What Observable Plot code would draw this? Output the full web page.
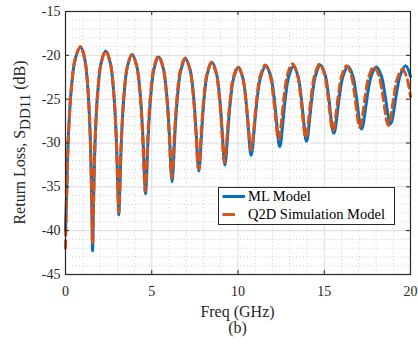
<!DOCTYPE html>
<html><head><meta charset="utf-8">
<script src="https://cdn.jsdelivr.net/npm/d3@7"></script>
<script src="https://cdn.jsdelivr.net/npm/@observablehq/plot@0.6"></script>
<style>
html,body{margin:0;padding:0;background:#fff;}
#chart{position:relative;width:418px;height:346px;font-family:"Liberation Serif","Times New Roman",serif;}
</style></head>
<body><div id="chart"></div>
<script>
const seriesNames = ["ML Model", "Q2D Simulation Model"];
const seriesColors = ["#0072BD", "#D95319"];
const xTicks = [0, 5, 10, 15, 20];
const yTicks = [-45, -40, -35, -30, -25, -20, -15];
const xMinor = [1,2,3,4,6,7,8,9,11,12,13,14,16,17,18,19];
const yMinor = [-44,-43,-42,-41,-39,-38,-37,-36,-34,-33,-32,-31,-29,-28,-27,-26,-24,-23,-22,-21,-19,-18,-17,-16];

const mlFreq = [0,0.061,0.174,0.348,0.566,0.87,1.115,1.29,1.43,1.521,1.57,1.623,1.722,1.874,2.064,2.33,2.596,2.786,2.938,3.037,3.09,3.144,3.244,3.398,3.59,3.86,4.133,4.328,4.484,4.585,4.64,4.693,4.792,4.944,5.134,5.40,5.673,5.868,6.024,6.125,6.18,6.235,6.336,6.492,6.687,6.96,7.23,7.422,7.576,7.676,7.73,7.783,7.882,8.034,8.224,8.49,8.753,8.94,9.09,9.188,9.24,9.295,9.396,9.552,9.747,10.02,10.279,10.464,10.612,10.708,10.76,10.82,10.932,11.104,11.319,11.62,11.90,12.10,12.26,12.364,12.42,12.476,12.58,12.74,12.94,13.22,13.48,13.67,13.82,13.918,13.97,14.027,14.132,14.294,14.5,14.78,15.05,15.242,15.396,15.496,15.55,15.608,15.716,15.882,16.09,16.38,16.653,16.848,17.004,17.105,17.16,17.22,17.332,17.504,17.719,18.02,18.307,18.512,18.676,18.783,18.84,18.902,19.016,19.192,19.412,19.72,20.0];
const mlLoss = [-40.0,-36.05,-28.93,-23.6,-20.42,-19.05,-20.43,-23.63,-29.06,-36.83,-42.3,-37.17,-29.49,-24.07,-20.88,-19.5,-20.86,-24.01,-29.18,-35.47,-38.2,-35.65,-29.53,-24.4,-21.26,-19.9,-21.24,-24.31,-29.16,-34.17,-35.8,-34.27,-29.39,-24.59,-21.54,-20.2,-21.52,-24.51,-29.06,-33.25,-34.4,-33.3,-29.21,-24.7,-21.72,-20.4,-21.7,-24.6,-28.85,-32.34,-33.2,-32.42,-29.11,-24.97,-22.09,-20.8,-22.08,-24.89,-28.85,-31.83,-32.5,-31.92,-29.18,-25.38,-22.61,-21.35,-22.58,-25.22,-28.68,-30.95,-31.4,-30.93,-28.6,-25.09,-22.43,-21.2,-22.39,-24.93,-28.1,-30.04,-30.4,-30.04,-28.12,-24.96,-22.44,-21.25,-22.41,-24.85,-27.79,-29.49,-29.8,-29.47,-27.72,-24.73,-22.27,-21.1,-22.22,-24.53,-27.2,-28.64,-28.9,-28.66,-27.25,-24.64,-22.36,-21.25,-22.33,-24.51,-26.94,-28.19,-28.4,-28.19,-26.96,-24.55,-22.38,-21.3,-22.33,-24.38,-26.56,-27.62,-27.8,-27.61,-26.52,-24.31,-22.24,-21.2,-22.4];

const q2dFreq = [0,0.061,0.174,0.348,0.566,0.87,1.115,1.29,1.43,1.521,1.57,1.623,1.722,1.874,2.064,2.33,2.596,2.786,2.938,3.037,3.09,3.144,3.244,3.398,3.59,3.86,4.126,4.316,4.468,4.567,4.62,4.674,4.774,4.928,5.12,5.39,5.66,5.852,6.006,6.106,6.16,6.215,6.316,6.472,6.667,6.94,7.21,7.402,7.556,7.656,7.71,7.763,7.862,8.014,8.204,8.47,8.733,8.92,9.07,9.168,9.22,9.275,9.376,9.532,9.727,10.0,10.266,10.456,10.608,10.707,10.76,10.817,10.924,11.088,11.293,11.58,11.853,12.048,12.204,12.305,12.36,12.416,12.52,12.68,12.88,13.16,13.43,13.622,13.776,13.876,13.93,13.987,14.092,14.254,14.457,14.74,15.006,15.196,15.348,15.447,15.50,15.556,15.66,15.82,16.02,16.30,16.566,16.756,16.908,17.007,17.06,17.117,17.224,17.388,17.593,17.88,18.174,18.384,18.552,18.661,18.72,18.776,18.88,19.04,19.24,19.52,19.76,20.0];
const q2dLoss = [-42.0,-36.72,-29.0,-23.57,-20.38,-19.0,-20.38,-23.57,-28.97,-36.57,-41.5,-36.9,-29.45,-24.06,-20.88,-19.5,-20.86,-24.0,-29.14,-35.3,-37.9,-35.49,-29.49,-24.39,-21.26,-19.9,-21.24,-24.29,-29.09,-33.97,-35.5,-34.03,-29.25,-24.49,-21.44,-20.1,-21.42,-24.39,-28.88,-32.92,-34.0,-32.96,-29.03,-24.58,-21.62,-20.3,-21.6,-24.49,-28.71,-32.16,-33.0,-32.25,-29.04,-24.95,-22.09,-20.8,-22.07,-24.86,-28.73,-31.58,-32.2,-31.65,-29.02,-25.29,-22.55,-21.3,-22.51,-25.08,-28.36,-30.41,-30.8,-30.39,-28.26,-24.91,-22.31,-21.1,-22.26,-24.69,-27.62,-29.3,-29.6,-29.28,-27.55,-24.57,-22.12,-20.95,-22.11,-24.52,-27.43,-29.09,-29.4,-29.1,-27.46,-24.56,-22.16,-21.0,-22.11,-24.38,-26.97,-28.35,-28.6,-28.37,-27.05,-24.53,-22.3,-21.2,-22.27,-24.42,-26.79,-28.0,-28.2,-28.0,-26.83,-24.5,-22.36,-21.3,-22.35,-24.44,-26.69,-27.81,-28.0,-27.83,-26.79,-24.65,-22.63,-21.6,-22.35,-24.7];

const xLabel = "Freq (GHz)";
const yLabelMain = "Return Loss, S";
const yLabelSub = "DD11";
const yLabelEnd = " (dB)";
const caption = "(b)";

const ml = mlFreq.map((f, i) => ({f, v: mlLoss[i]}));
const q2d = q2dFreq.map((f, i) => ({f, v: q2dLoss[i]}));

const W = 418, H = 346, mL = 65, mR = 8, mT = 11, mB = 72;
const fW = W - mL - mR, fH = H - mT - mB;
const ink = "#262626";
const font = "Liberation Serif, Times New Roman, serif";

const plot = Plot.plot({
  width: W, height: H,
  marginLeft: mL, marginRight: mR, marginTop: mT, marginBottom: mB,
  style: {fontFamily: font, fontSize: "14px", background: "#fff", color: ink, overflow: "visible"},
  x: {domain: [0, 20], ticks: xTicks, tickSize: 0, tickPadding: 12, tickFormat: d => String(d), label: null},
  y: {domain: [-45, -15], ticks: yTicks, tickSize: 0, tickPadding: 5, tickFormat: d => String(d), label: null},
  marks: [
    Plot.ruleX(xMinor, {stroke: "#c4c4c4", strokeWidth: 0.8, strokeDasharray: "1,2.5"}),
    Plot.ruleY(yMinor, {stroke: "#c4c4c4", strokeWidth: 0.8, strokeDasharray: "1,2.5"}),
    Plot.ruleX(xTicks, {stroke: "#dcdcdc", strokeWidth: 1}),
    Plot.ruleY(yTicks, {stroke: "#dcdcdc", strokeWidth: 1}),
    Plot.line(ml, {x: "f", y: "v", stroke: seriesColors[0], strokeWidth: 3, curve: "catmull-rom"}),
    Plot.line(q2d, {x: "f", y: "v", stroke: seriesColors[1], strokeWidth: 3, strokeDasharray: "8,5", curve: "catmull-rom"}),
    Plot.tickX(xTicks, {stroke: ink, strokeWidth: 1, insetTop: fH - 4}),
    Plot.tickX(xTicks, {stroke: ink, strokeWidth: 1, insetBottom: fH - 4}),
    Plot.tickY(yTicks, {stroke: ink, strokeWidth: 1, insetRight: fW - 4}),
    Plot.tickY(yTicks, {stroke: ink, strokeWidth: 1, insetLeft: fW - 4}),
    Plot.frame({stroke: ink, strokeWidth: 1.2})
  ]
});
document.getElementById("chart").appendChild(plot);

const svg = d3.select(plot);
const yl = svg.append("text")
  .attr("transform", `translate(25,${mT + fH / 2}) rotate(-90)`)
  .attr("text-anchor", "middle")
  .attr("font-family", font).attr("font-size", 16).attr("fill", ink);
yl.append("tspan").text(yLabelMain);
yl.append("tspan").attr("dy", "0.35em").attr("font-size", 15).text(yLabelSub);
yl.append("tspan").attr("dy", "-0.35em").text(yLabelEnd);

svg.append("text").attr("x", mL + fW / 2).attr("y", 317).attr("text-anchor", "middle")
  .attr("font-family", font).attr("font-size", 16).attr("fill", ink).text(xLabel);
svg.append("text").attr("x", mL + fW / 2).attr("y", 333).attr("text-anchor", "middle")
  .attr("font-family", font).attr("font-size", 16).attr("fill", ink).text(caption);

// legend
const lg = svg.append("g").attr("transform", "translate(218,187)");
lg.append("rect").attr("x", 0.5).attr("y", 0.5).attr("width", 176).attr("height", 37)
  .attr("fill", "#fff").attr("stroke", ink).attr("stroke-width", 1);
seriesNames.forEach((name, i) => {
  const cy = 9.5 + i * 18;
  lg.append("line").attr("x1", 4.5).attr("x2", i === 0 ? 27 : 17).attr("y1", cy).attr("y2", cy)
    .attr("stroke", seriesColors[i]).attr("stroke-width", 3);
  lg.append("text").attr("x", 30).attr("y", cy).attr("dy", "0.33em").attr("text-anchor", "start")
    .attr("font-family", font).attr("font-size", 14.5).attr("fill", "#000").text(name);
});
</script>
</body></html>
